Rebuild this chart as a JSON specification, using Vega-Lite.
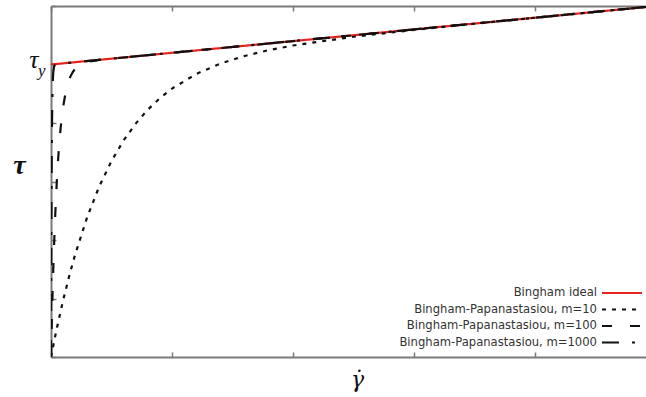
{
  "$schema": "https://vega.github.io/schema/vega-lite/v6.json",
  "width": 595,
  "height": 351,
  "autosize": "none",
  "padding": {"left": 51, "top": 6, "right": 0, "bottom": 40},
  "background": "white",
  "config": {
    "view": {"stroke": null},
    "axis": {
      "domainColor": "#7a7a7a",
      "domainWidth": 2,
      "tickColor": "#7a7a7a",
      "tickWidth": 1.5,
      "tickSize": -5,
      "grid": false
    }
  },
  "datasets": {
    "curves": [
      {"series": "Bingham ideal", "gamma": 0, "tau": 5},
      {"series": "Bingham ideal", "gamma": 5, "tau": 6},
      {"series": "Bingham-Papanastasiou, m=10", "gamma": 0, "tau": 0},
      {"series": "Bingham-Papanastasiou, m=10", "gamma": 0.025, "tau": 0.26},
      {"series": "Bingham-Papanastasiou, m=10", "gamma": 0.05, "tau": 0.508},
      {"series": "Bingham-Papanastasiou, m=10", "gamma": 0.1, "tau": 0.967},
      {"series": "Bingham-Papanastasiou, m=10", "gamma": 0.15, "tau": 1.381},
      {"series": "Bingham-Papanastasiou, m=10", "gamma": 0.2, "tau": 1.755},
      {"series": "Bingham-Papanastasiou, m=10", "gamma": 0.3, "tau": 2.397},
      {"series": "Bingham-Papanastasiou, m=10", "gamma": 0.4, "tau": 2.922},
      {"series": "Bingham-Papanastasiou, m=10", "gamma": 0.5, "tau": 3.35},
      {"series": "Bingham-Papanastasiou, m=10", "gamma": 0.6, "tau": 3.702},
      {"series": "Bingham-Papanastasiou, m=10", "gamma": 0.7, "tau": 3.99},
      {"series": "Bingham-Papanastasiou, m=10", "gamma": 0.8, "tau": 4.228},
      {"series": "Bingham-Papanastasiou, m=10", "gamma": 0.9, "tau": 4.425},
      {"series": "Bingham-Papanastasiou, m=10", "gamma": 1.0, "tau": 4.588},
      {"series": "Bingham-Papanastasiou, m=10", "gamma": 1.2, "tau": 4.838},
      {"series": "Bingham-Papanastasiou, m=10", "gamma": 1.4, "tau": 5.016},
      {"series": "Bingham-Papanastasiou, m=10", "gamma": 1.6, "tau": 5.146},
      {"series": "Bingham-Papanastasiou, m=10", "gamma": 1.8, "tau": 5.246},
      {"series": "Bingham-Papanastasiou, m=10", "gamma": 2.0, "tau": 5.325},
      {"series": "Bingham-Papanastasiou, m=10", "gamma": 2.5, "tau": 5.474},
      {"series": "Bingham-Papanastasiou, m=10", "gamma": 3.0, "tau": 5.591},
      {"series": "Bingham-Papanastasiou, m=10", "gamma": 3.5, "tau": 5.697},
      {"series": "Bingham-Papanastasiou, m=10", "gamma": 4.0, "tau": 5.799},
      {"series": "Bingham-Papanastasiou, m=10", "gamma": 4.5, "tau": 5.9},
      {"series": "Bingham-Papanastasiou, m=10", "gamma": 5.0, "tau": 6.0},
      {"series": "Bingham-Papanastasiou, m=100", "gamma": 0, "tau": 0},
      {"series": "Bingham-Papanastasiou, m=100", "gamma": 0.005, "tau": 0.454},
      {"series": "Bingham-Papanastasiou, m=100", "gamma": 0.01, "tau": 0.867},
      {"series": "Bingham-Papanastasiou, m=100", "gamma": 0.015, "tau": 1.243},
      {"series": "Bingham-Papanastasiou, m=100", "gamma": 0.02, "tau": 1.585},
      {"series": "Bingham-Papanastasiou, m=100", "gamma": 0.03, "tau": 2.178},
      {"series": "Bingham-Papanastasiou, m=100", "gamma": 0.04, "tau": 2.67},
      {"series": "Bingham-Papanastasiou, m=100", "gamma": 0.05, "tau": 3.076},
      {"series": "Bingham-Papanastasiou, m=100", "gamma": 0.06, "tau": 3.413},
      {"series": "Bingham-Papanastasiou, m=100", "gamma": 0.07, "tau": 3.692},
      {"series": "Bingham-Papanastasiou, m=100", "gamma": 0.08, "tau": 3.922},
      {"series": "Bingham-Papanastasiou, m=100", "gamma": 0.09, "tau": 4.114},
      {"series": "Bingham-Papanastasiou, m=100", "gamma": 0.1, "tau": 4.272},
      {"series": "Bingham-Papanastasiou, m=100", "gamma": 0.12, "tau": 4.512},
      {"series": "Bingham-Papanastasiou, m=100", "gamma": 0.14, "tau": 4.678},
      {"series": "Bingham-Papanastasiou, m=100", "gamma": 0.16, "tau": 4.793},
      {"series": "Bingham-Papanastasiou, m=100", "gamma": 0.18, "tau": 4.872},
      {"series": "Bingham-Papanastasiou, m=100", "gamma": 0.2, "tau": 4.928},
      {"series": "Bingham-Papanastasiou, m=100", "gamma": 0.25, "tau": 5.007},
      {"series": "Bingham-Papanastasiou, m=100", "gamma": 0.3, "tau": 5.043},
      {"series": "Bingham-Papanastasiou, m=100", "gamma": 0.4, "tau": 5.078},
      {"series": "Bingham-Papanastasiou, m=100", "gamma": 0.5, "tau": 5.1},
      {"series": "Bingham-Papanastasiou, m=100", "gamma": 1, "tau": 5.2},
      {"series": "Bingham-Papanastasiou, m=100", "gamma": 2, "tau": 5.4},
      {"series": "Bingham-Papanastasiou, m=100", "gamma": 3, "tau": 5.6},
      {"series": "Bingham-Papanastasiou, m=100", "gamma": 4, "tau": 5.8},
      {"series": "Bingham-Papanastasiou, m=100", "gamma": 5, "tau": 6.0},
      {"series": "Bingham-Papanastasiou, m=1000", "gamma": 0, "tau": 0},
      {"series": "Bingham-Papanastasiou, m=1000", "gamma": 0.0005, "tau": 0.453},
      {"series": "Bingham-Papanastasiou, m=1000", "gamma": 0.001, "tau": 0.865},
      {"series": "Bingham-Papanastasiou, m=1000", "gamma": 0.0015, "tau": 1.24},
      {"series": "Bingham-Papanastasiou, m=1000", "gamma": 0.002, "tau": 1.58},
      {"series": "Bingham-Papanastasiou, m=1000", "gamma": 0.003, "tau": 2.17},
      {"series": "Bingham-Papanastasiou, m=1000", "gamma": 0.004, "tau": 2.66},
      {"series": "Bingham-Papanastasiou, m=1000", "gamma": 0.005, "tau": 3.07},
      {"series": "Bingham-Papanastasiou, m=1000", "gamma": 0.006, "tau": 3.4},
      {"series": "Bingham-Papanastasiou, m=1000", "gamma": 0.007, "tau": 3.68},
      {"series": "Bingham-Papanastasiou, m=1000", "gamma": 0.008, "tau": 3.91},
      {"series": "Bingham-Papanastasiou, m=1000", "gamma": 0.009, "tau": 4.1},
      {"series": "Bingham-Papanastasiou, m=1000", "gamma": 0.01, "tau": 4.254},
      {"series": "Bingham-Papanastasiou, m=1000", "gamma": 0.012, "tau": 4.49},
      {"series": "Bingham-Papanastasiou, m=1000", "gamma": 0.014, "tau": 4.65},
      {"series": "Bingham-Papanastasiou, m=1000", "gamma": 0.016, "tau": 4.764},
      {"series": "Bingham-Papanastasiou, m=1000", "gamma": 0.018, "tau": 4.84},
      {"series": "Bingham-Papanastasiou, m=1000", "gamma": 0.02, "tau": 4.892},
      {"series": "Bingham-Papanastasiou, m=1000", "gamma": 0.025, "tau": 4.96},
      {"series": "Bingham-Papanastasiou, m=1000", "gamma": 0.03, "tau": 4.99},
      {"series": "Bingham-Papanastasiou, m=1000", "gamma": 0.04, "tau": 5.006},
      {"series": "Bingham-Papanastasiou, m=1000", "gamma": 0.05, "tau": 5.01},
      {"series": "Bingham-Papanastasiou, m=1000", "gamma": 0.1, "tau": 5.02},
      {"series": "Bingham-Papanastasiou, m=1000", "gamma": 1, "tau": 5.2},
      {"series": "Bingham-Papanastasiou, m=1000", "gamma": 2, "tau": 5.4},
      {"series": "Bingham-Papanastasiou, m=1000", "gamma": 3, "tau": 5.6},
      {"series": "Bingham-Papanastasiou, m=1000", "gamma": 4, "tau": 5.8},
      {"series": "Bingham-Papanastasiou, m=1000", "gamma": 5, "tau": 6.0}
    ]
  },
  "layer": [
    {
      "data": {"name": "curves"},
      "mark": {"type": "line", "strokeWidth": 2.2, "clip": true},
      "encoding": {
        "x": {
          "field": "gamma", "type": "quantitative",
          "scale": {"domain": [0, 4.917], "nice": false, "zero": false},
          "axis": {
            "orient": "bottom", "values": [0, 1, 2, 3, 4], "labels": false,
            "title": "γ̇", "titleFont": "DejaVu Serif", "titleFontStyle": "italic",
            "titleFontWeight": "normal", "titleFontSize": 22, "titleColor": "#111",
            "titleX": 306, "titleY": 29, "titleAlign": "center", "titleBaseline": "alphabetic"
          }
        },
        "y": {
          "field": "tau", "type": "quantitative",
          "scale": {"domain": [0, 6], "nice": false, "zero": false},
          "axis": {
            "orient": "left", "values": [0, 1, 2, 3, 4, 5, 6],
            "labelExpr": "datum.value == 5 ? 'τ' : ''",
            "labelFont": "Liberation Serif", "labelFontStyle": "italic", "labelFontSize": 26,
            "labelColor": "#111", "labelPadding": 18, "labelBaseline": "alphabetic", "labelOffset": 3,
            "title": "τ", "titleFont": "Liberation Serif", "titleFontStyle": "italic",
            "titleFontWeight": "bold", "titleFontSize": 28, "titleColor": "#111", "titleAngle": 0,
            "titleX": -32, "titleY": 167, "titleAlign": "center", "titleBaseline": "alphabetic"
          }
        },
        "color": {
          "field": "series", "type": "nominal",
          "scale": {
            "domain": ["Bingham ideal", "Bingham-Papanastasiou, m=10", "Bingham-Papanastasiou, m=100", "Bingham-Papanastasiou, m=1000"],
            "range": ["#e8231e", "#111111", "#111111", "#111111"]
          },
          "legend": {
            "orient": "none", "legendX": 565, "legendY": 281, "title": null,
            "symbolType": "M-4,0H4", "symbolSize": 100, "symbolStrokeWidth": 2,
            "labelAlign": "right", "labelOffset": -31, "labelFont": "DejaVu Sans", "labelLimit": 0,
            "labelFontSize": 11.6, "labelColor": "#333", "rowPadding": 4.5, "padding": 0
          }
        },
        "strokeDash": {
          "field": "series", "type": "nominal",
          "scale": {
            "domain": ["Bingham ideal", "Bingham-Papanastasiou, m=10", "Bingham-Papanastasiou, m=100", "Bingham-Papanastasiou, m=1000"],
            "range": [[1, 0], [4, 6], [10, 18], [17, 13, 3, 13]]
          },
          "legend": {
            "orient": "none", "legendX": 565, "legendY": 281, "title": null,
            "symbolType": "M-4,0H4", "symbolSize": 100, "symbolStrokeWidth": 2,
            "labelAlign": "right", "labelOffset": -31, "labelFont": "DejaVu Sans", "labelLimit": 0,
            "labelFontSize": 11.6, "labelColor": "#333", "rowPadding": 4.5, "padding": 0
          }
        }
      }
    },
    {
      "data": {"values": [{}]},
      "mark": {"type": "text", "text": "y", "font": "Liberation Serif", "fontStyle": "italic", "fontSize": 17, "align": "left", "baseline": "alphabetic", "dx": -13, "dy": 11, "color": "#111"},
      "encoding": {
        "x": {
          "datum": 0, "type": "quantitative",
          "axis": {"orient": "top", "values": [0, 1, 2, 3, 4], "labels": false, "title": null}
        },
        "y": {"datum": 5, "type": "quantitative", "axis": null}
      }
    }
  ],
  "resolve": {"axis": {"x": "independent", "y": "independent"}}
}
